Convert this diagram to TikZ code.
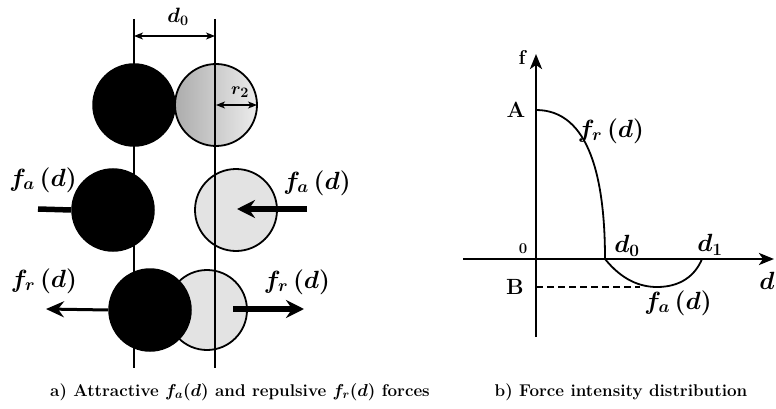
\documentclass[tikz,border=0pt]{standalone}
\usetikzlibrary{arrows.meta}
\newcommand{\forcelab}[1]{$f_{\hbox{\fontsize{19}{20}\selectfont\boldmath$#1$}}\,(d)$}
\begin{document}
\begin{tikzpicture}[x=1pt,y=-1pt,
  blackball/.style={circle,fill=black,draw=black,line width=1.5pt,minimum size=82pt,inner sep=0pt},
  grayball/.style={circle,fill=gray!22,draw=black,line width=1.8pt,minimum size=80pt,inner sep=0pt},
  guide/.style={line width=2pt},
  lbl/.style={font=\fontsize{24}{26}\selectfont\boldmath,inner sep=0pt},
  axlbl/.style={font=\fontsize{23}{25}\selectfont\boldmath,inner sep=0pt},
  rmlbl/.style={font=\fontsize{22}{24}\selectfont\bfseries,inner sep=0pt},
  force/.style={line width=5.5pt,-{Stealth[length=18pt,width=18pt,inset=6pt]}},
  thinforce/.style={line width=3pt,-{Stealth[length=18pt,width=16pt,inset=6pt]}},
  dimarrow/.style={line width=1.1pt,{Stealth[length=9pt,width=7pt,inset=2.5pt]}-{Stealth[length=9pt,width=7pt,inset=2.5pt]}},
  axis/.style={line width=2.8pt,-{Stealth[length=15pt,width=12pt,inset=4pt]}},
  curve/.style={line width=1.8pt},
  caption/.style={font=\fontsize{17}{19}\selectfont\bfseries\boldmath,inner sep=0pt}]
\useasboundingbox (0,0) rectangle (776,409);

% ---------- left panel ----------
\coordinate (l1t) at (134,19); \coordinate (l1b) at (134,368);
\coordinate (l2t) at (215,19); \coordinate (l2b) at (215,368);

% top row
\node[grayball,minimum size=82pt,left color=gray!65,right color=gray!15] (g1) at (216,105) {};
\node[blackball] (b1) at (134,105) {};
% middle row
\node[grayball,minimum size=82pt] (g2) at (236,210) {};
\node[blackball] (b2) at (113,210) {};
% bottom row
\node[grayball] (g3) at (207,310) {};
\node[blackball] (b3) at (150,310) {};

\draw[guide] (l1t) -- (l1b);
\draw[guide] (l2t) -- (l2b);

% d0 dimension
\coordinate (d0a) at (134,36); \coordinate (d0b) at (215,36);
\draw[dimarrow] (d0a) -- (d0b);
\node[font=\fontsize{22}{24}\selectfont\boldmath,inner sep=0pt] (d0top) at (178,17) {$d_0$};

% r2
\coordinate (r2a) at (216,105); \coordinate (r2b) at (257,105);
\draw[dimarrow] (r2a) -- (r2b);
\node[font=\fontsize{19}{21}\selectfont\boldmath,inner sep=0pt] (r2lab) at (240,92) {$r_2$};

% middle forces
\coordinate (fa1s) at (38,209);
\draw[line width=5.5pt] (fa1s) -- (b2.west);
\coordinate (fa2s) at (307,209); \coordinate (fa2e) at (237,209);
\draw[force] (fa2s) -- (fa2e);
\node[lbl] (fal) at (43,180) {\forcelab{a}};
\node[lbl] (far) at (317,183) {\forcelab{a}};

% bottom forces
\coordinate (fr1e) at (46,309);
\draw[thinforce] (b3.west) -- (fr1e);
\coordinate (fr2s) at (233,309); \coordinate (fr2e) at (304,309);
\draw[force] (fr2s) -- (fr2e);
\node[lbl] (frl) at (44,281) {\forcelab{r}};
\node[lbl] (frr) at (297,282) {\forcelab{r}};

\node[caption] (capa) at (240,392) {a) Attractive $f_a(d)$ and repulsive $f_r(d)$ forces};

% ---------- right panel ----------
\coordinate (ybot) at (536,337); \coordinate (ytop) at (536,54);
\coordinate (xl) at (463,259); \coordinate (xr) at (774,259);
\draw[axis] (ybot) -- (ytop);
\draw[axis] (xl) -- (xr);

\node[font=\fontsize{20}{22}\selectfont\bfseries,inner sep=0pt] (flab) at (522,58) {f};
\node[rmlbl] (Alab) at (516,110) {A};
\node[rmlbl] (Blab) at (515,287) {B};
\node[font=\fontsize{15}{17}\selectfont\bfseries,inner sep=0pt] (zlab) at (523,249) {0};
\node[axlbl] (d0lab) at (627,246) {$d_0$};
\node[axlbl] (d1lab) at (710,245) {$d_1$};
\node[font=\fontsize{32}{34}\selectfont\boldmath,inner sep=0pt] (dlab) at (767,281) {$d$};

\coordinate (A) at (536,110); \coordinate (D0) at (605,259);
\coordinate (M) at (657,287); \coordinate (D1) at (702,259);
\coordinate (Bp) at (536,287); \coordinate (Be) at (640,287);
\draw[curve] (A) .. controls (590,110) and (605,180) .. (D0)
  .. controls (622,280) and (640,287) .. (M)
  .. controls (680,287) and (695,276) .. (D1);
\draw[dashed,dash pattern=on 7pt off 4pt,line width=1.2pt] (Bp) -- (Be);

\node[lbl] (frlab) at (611,131) {\forcelab{r}};
\node[lbl] (falab) at (678,303) {\forcelab{a}};

\node[caption] (capb) at (621,392) {b) Force intensity distribution};
\end{tikzpicture}
\end{document}
